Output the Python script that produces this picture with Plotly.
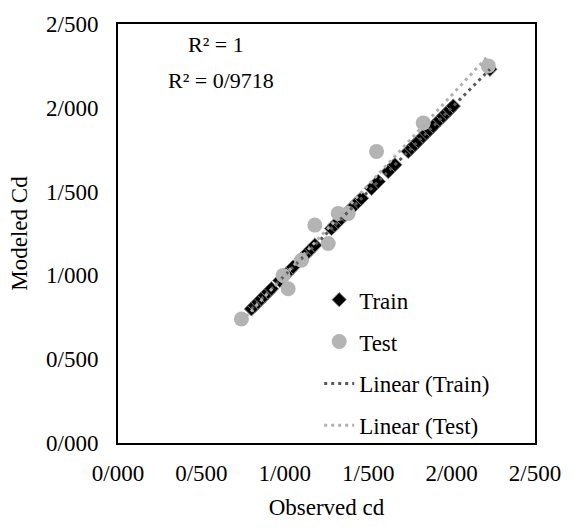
import numpy as np
import plotly.graph_objects as go

# ---- data ----
train_x = [0.80, 0.82, 0.84, 0.86, 0.88, 0.90, 0.92, 0.97, 0.99, 1.01, 1.03, 1.05,
           1.10, 1.12, 1.14, 1.16, 1.18, 1.28, 1.30, 1.32, 1.34, 1.36, 1.38,
           1.40, 1.42, 1.44, 1.46, 1.52, 1.56, 1.62, 1.66, 1.74, 1.76, 1.78, 1.80,
           1.83, 1.85, 1.87, 1.89, 1.93, 1.95, 1.97, 1.99, 2.01, 2.23]
train_y = [0.80, 0.82, 0.84, 0.86, 0.88, 0.90, 0.92, 0.97, 0.99, 1.01, 1.03, 1.05,
           1.10, 1.12, 1.14, 1.16, 1.18, 1.28, 1.30, 1.32, 1.34, 1.36, 1.38,
           1.40, 1.42, 1.44, 1.46, 1.52, 1.56, 1.62, 1.66, 1.74, 1.76, 1.78, 1.80,
           1.83, 1.85, 1.87, 1.89, 1.93, 1.95, 1.97, 1.99, 2.01, 2.23]
test_x = [0.74, 0.99, 1.02, 1.10, 1.18, 1.26, 1.32, 1.38, 1.55, 1.83, 2.22]
test_y = [0.74, 1.00, 0.92, 1.09, 1.30, 1.19, 1.37, 1.37, 1.74, 1.91, 2.25]

tick_vals = [0.0, 0.5, 1.0, 1.5, 2.0, 2.5]
tick_text = ["0/000", "0/500", "1/000", "1/500", "2/000", "2/500"]
r2_labels = ["R² = 1", "R² = 0/9718"]

FONT = "Liberation Serif, Times New Roman, serif"


def trend(xs, ys):
    xs = np.asarray(xs); ys = np.asarray(ys)
    m, b = np.polyfit(xs, ys, 1)
    lx = np.array([xs.min(), xs.max()])
    return lx, m * lx + b


fig = go.Figure()

fig.add_trace(go.Scatter(
    x=train_x, y=train_y, mode="markers", name="Train", legendgroup="a",
    marker=dict(symbol="diamond", size=11, color="black",
                line=dict(color="#808080", width=1))))
fig.add_trace(go.Scatter(
    x=test_x, y=test_y, mode="markers", name="Test", legendgroup="b",
    marker=dict(symbol="circle", size=15, color="#b4b4b4")))

tx, ty = trend(train_x, train_y)
fig.add_trace(go.Scatter(
    x=tx, y=ty, mode="lines", name="Linear (Train)", legendgroup="c",
    line=dict(color="#595959", width=3, dash="3px,4px")))
sx, sy = trend(test_x, test_y)
fig.add_trace(go.Scatter(
    x=sx, y=sy, mode="lines", name="Linear (Test)", legendgroup="d",
    line=dict(color="#b0b0b0", width=3, dash="3px,4px")))

axis_common = dict(
    range=[0, 2.5], tickvals=tick_vals, ticktext=tick_text,
    showgrid=False, zeroline=False, showline=True, mirror=True,
    linecolor="black", linewidth=2, ticks="",
    tickfont=dict(family=FONT, size=23, color="black"),
)

fig.update_layout(
    width=573, height=528,
    margin=dict(l=118, r=31, t=19, b=81),
    paper_bgcolor="white", plot_bgcolor="white",
    font=dict(family=FONT, size=23, color="black"),
    xaxis=dict(**axis_common, ticklabelstandoff=8,
               title=dict(text="Observed cd", standoff=14,
                          font=dict(family=FONT, size=23))),
    yaxis=dict(**axis_common, ticklabelstandoff=13,
               title=dict(text="Modeled Cd", standoff=12,
                          font=dict(family=FONT, size=23))),
    legend=dict(x=0.4825, y=-0.01, xanchor="left", yanchor="bottom",
                bgcolor="rgba(0,0,0,0)", tracegroupgap=9,
                traceorder="grouped",
                font=dict(family=FONT, size=23, color="black")),
    showlegend=True,
)

fig.add_annotation(x=0.236, y=0.951, xref="paper", yref="paper", text=r2_labels[0],
                   xanchor="center", yanchor="middle",
                   showarrow=False, font=dict(family=FONT, size=22, color="black"))
fig.add_annotation(x=0.248, y=0.864, xref="paper", yref="paper", text=r2_labels[1],
                   xanchor="center", yanchor="middle",
                   showarrow=False, font=dict(family=FONT, size=22, color="black"))

fig.write_html("out.html")
